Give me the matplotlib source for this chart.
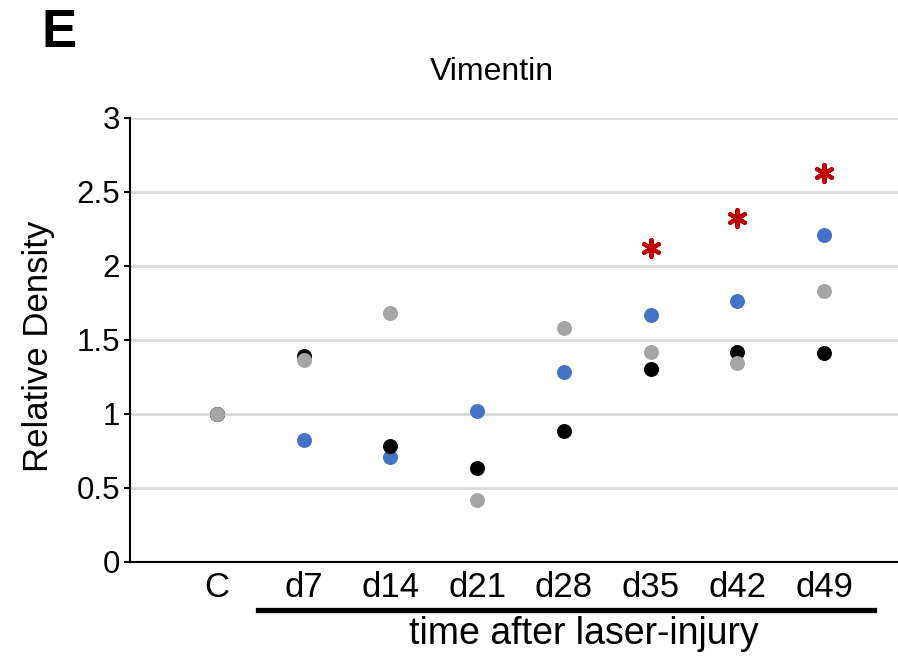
import numpy as np
import matplotlib.pyplot as plt
from matplotlib.lines import Line2D

plt.rcParams['font.family'] = ['Liberation Sans', 'DejaVu Sans']

days = ['C', 'd7', 'd14', 'd21', 'd28', 'd35', 'd42', 'd49']
blue = [1.0, 0.82, 0.71, 1.02, 1.28, 1.67, 1.76, 2.21]
black = [1.0, 1.39, 0.78, 0.63, 0.88, 1.30, 1.42, 1.41]
grey = [1.0, 1.36, 1.68, 0.42, 1.58, 1.42, 1.345, 1.83]
star_days = ['d35', 'd42', 'd49']
star_y = [2.12, 2.325, 2.63]

x = np.arange(len(days))

fig = plt.figure(figsize=(8.98, 6.56), dpi=100)
ax = fig.add_axes([0.1448, 0.1437, 0.8552, 0.6768])

ax.grid(axis='y', color='#d9d9d9', linewidth=2)
ax.set_axisbelow(True)

ax.scatter(x, blue, s=95, color='#4472c4', zorder=3)
ax.scatter(x, black, s=95, color='black', zorder=4)
ax.scatter(x, grey, s=95, color='#a5a5a5', zorder=5)
ax.scatter([days.index(d) for d in star_days], star_y, marker=(6, 2, 0), s=150,
           color='#c00000', linewidths=3, zorder=6)

ax.set_xlim(-1.0, 7.85)
ax.set_ylim(0, 3)
ax.set_yticks(np.arange(0, 3.01, 0.5))
ax.set_yticklabels(['0', '0.5', '1', '1.5', '2', '2.5', '3'])
ax.set_xticks(x)
ax.set_xticklabels(days)

for s in ['top', 'right']:
    ax.spines[s].set_visible(False)
ax.spines['left'].set_linewidth(1.5)
ax.spines['bottom'].set_linewidth(1.5)

ax.tick_params(axis='y', labelsize=22.5, length=4, width=1.5, pad=3)
ax.tick_params(axis='x', labelsize=25, length=0, pad=7)

ax.set_ylabel('Relative Density', fontsize=25)
ax.yaxis.set_label_coords(-0.098, 0.484)

fig.text(0.548, 0.890, 'Vimentin', fontsize=23, ha='center', va='center')
fig.text(0.046, 0.988, 'E', fontsize=38, fontweight='bold', ha='left', va='top')

fig.add_artist(Line2D([258 / 898, 874 / 898], [1 - 610 / 656, 1 - 610 / 656],
                      color='black', linewidth=3.8))
fig.text(584 / 898, 1 - 634 / 656, 'time after laser-injury', fontsize=27,
         ha='center', va='center')

fig.savefig('out.png', dpi=100)
